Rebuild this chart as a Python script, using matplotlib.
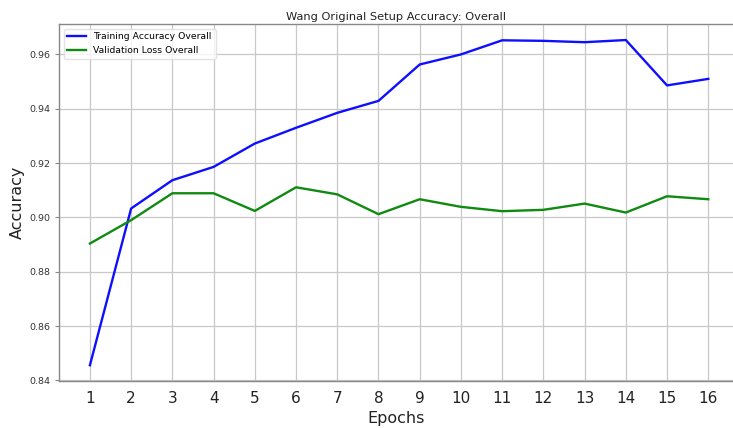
import matplotlib
matplotlib.use("Agg")
import matplotlib.pyplot as plt

epochs = list(range(1, 17))
train_acc = [0.8456, 0.9033, 0.9137, 0.9186, 0.9272, 0.9330, 0.9385, 0.9429,
             0.9563, 0.9600, 0.9652, 0.9650, 0.9645, 0.9653, 0.9486, 0.9510]
val_acc = [0.8904, 0.8990, 0.9089, 0.9089, 0.9024, 0.9111, 0.9085, 0.9012,
           0.9067, 0.9039, 0.9023, 0.9028, 0.9051, 0.9018, 0.9078, 0.9067]
yticks = [0.84, 0.86, 0.88, 0.90, 0.92, 0.94, 0.96]

W, H = 733, 428
fig = plt.figure(figsize=(W / 100, H / 100), dpi=100)
ax = fig.add_axes([59 / W, 1 - 381 / H, (733 - 59) / W, (381 - 24) / H])

ax.plot(epochs, train_acc, color="#0f0fff", lw=1.7, label="Training Accuracy Overall")
ax.plot(epochs, val_acc, color="#108a10", lw=1.7, label="Validation Loss Overall")

ax.set_xlim(0.25, 16.6)
ax.set_ylim(0.8398, 0.9712)
ax.set_xticks(epochs)
ax.set_yticks(yticks)
ax.set_yticklabels([f"{v:.2f}" for v in yticks])
ax.tick_params(axis="x", labelsize=11, length=0, pad=7, labelcolor="#222222")
ax.tick_params(axis="y", labelsize=6.8, length=3, width=0.8, color="#888888", labelcolor="#333333")
ax.grid(True, color="#c8c8c8", lw=0.9)
ax.set_axisbelow(True)
for s in ["left", "bottom", "top"]:
    ax.spines[s].set_color("#888888")
    ax.spines[s].set_linewidth(1.0)
ax.spines["right"].set_visible(False)

ax.set_title("Wang Original Setup Accuracy: Overall", fontsize=8.2, color="#222222", pad=3)
ax.set_xlabel("Epochs", fontsize=11.5, color="#222222", labelpad=4)
ax.set_ylabel("Accuracy", fontsize=11.5, color="#222222", labelpad=3)
ax.legend(loc="upper left", fontsize=6.7, frameon=True, edgecolor="#dddddd", fancybox=True)

fig.savefig("out.png", dpi=100)
